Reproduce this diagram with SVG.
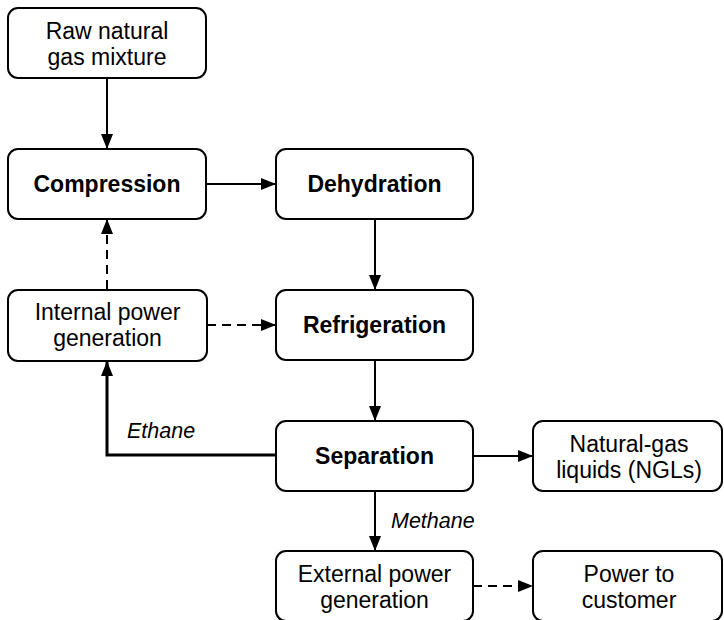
<svg xmlns="http://www.w3.org/2000/svg" width="724" height="620" viewBox="0 0 724 620">
<style>
.box{fill:#fff;stroke:#000;stroke-width:2}
.t{font-family:"Liberation Sans",Arial,sans-serif;font-size:23px;text-anchor:middle;fill:#000}
.b{font-weight:bold}
.lbl{font-family:"Liberation Sans",Arial,sans-serif;font-size:21.5px;font-style:italic;fill:#000}
.c{fill:none;stroke:#000;stroke-width:2}
.d{stroke-dasharray:9 6}
.thick{stroke-width:3}
</style>
<defs>
<marker id="ah" markerUnits="userSpaceOnUse" markerWidth="16" markerHeight="13" refX="15" refY="6.5" orient="auto">
<path d="M0,0.5 L15,6.5 L0,12.5 Z" fill="#000"/>
</marker>
</defs>
<rect width="724" height="620" fill="#fff"/>
<g id="connectors">
<line class="c" x1="107" y1="78" x2="107" y2="149" marker-end="url(#ah)"/>
<line class="c" x1="206" y1="184" x2="276" y2="184" marker-end="url(#ah)"/>
<line class="c" x1="375" y1="219" x2="375" y2="290" marker-end="url(#ah)"/>
<line class="c" x1="375" y1="360" x2="375" y2="421" marker-end="url(#ah)"/>
<line class="c" x1="473" y1="456" x2="533" y2="456" marker-end="url(#ah)"/>
<line class="c" x1="375" y1="491" x2="375" y2="551" marker-end="url(#ah)"/>
<line class="c d" x1="107" y1="289" x2="107" y2="219" marker-end="url(#ah)"/>
<line class="c d" x1="207" y1="325" x2="276" y2="325" marker-end="url(#ah)"/>
<line class="c d" x1="473" y1="586" x2="533" y2="586" marker-end="url(#ah)"/>
<polyline class="c thick" points="276,455 107,455 107,361" marker-end="url(#ah)"/>
<text class="lbl" x="127" y="438">Ethane</text>
<text class="lbl" x="391" y="528">Methane</text>
</g>
<g id="raw">
<rect class="box" x="8" y="8" width="198" height="70" rx="10"/>
<text class="t" x="107" y="39">Raw natural</text>
<text class="t" x="107" y="65">gas mixture</text>
</g>
<g id="compression">
<rect class="box" x="8" y="149" width="198" height="70" rx="10"/>
<text class="t b" x="107" y="192">Compression</text>
</g>
<g id="dehydration">
<rect class="box" x="276" y="149" width="197" height="70" rx="10"/>
<text class="t b" x="374.5" y="192">Dehydration</text>
</g>
<g id="internal">
<rect class="box" x="8" y="290" width="199" height="71" rx="10"/>
<text class="t" x="107.5" y="320">Internal power</text>
<text class="t" x="107.5" y="346">generation</text>
</g>
<g id="refrigeration">
<rect class="box" x="276" y="290" width="197" height="70" rx="10"/>
<text class="t b" x="374.5" y="333">Refrigeration</text>
</g>
<g id="separation">
<rect class="box" x="276" y="421" width="197" height="70" rx="10"/>
<text class="t b" x="374.5" y="464">Separation</text>
</g>
<g id="ngl">
<rect class="box" x="533" y="421" width="189" height="70" rx="10"/>
<text class="t" x="629" y="452">Natural-gas</text>
<text class="t" x="629" y="478">liquids (NGLs)</text>
</g>
<g id="external">
<rect class="box" x="276" y="551" width="197" height="70" rx="10"/>
<text class="t" x="374.5" y="582">External power</text>
<text class="t" x="374.5" y="608">generation</text>
</g>
<g id="customer">
<rect class="box" x="533" y="551" width="189" height="70" rx="10"/>
<text class="t" x="629" y="582">Power to</text>
<text class="t" x="629" y="608">customer</text>
</g>
</svg>
